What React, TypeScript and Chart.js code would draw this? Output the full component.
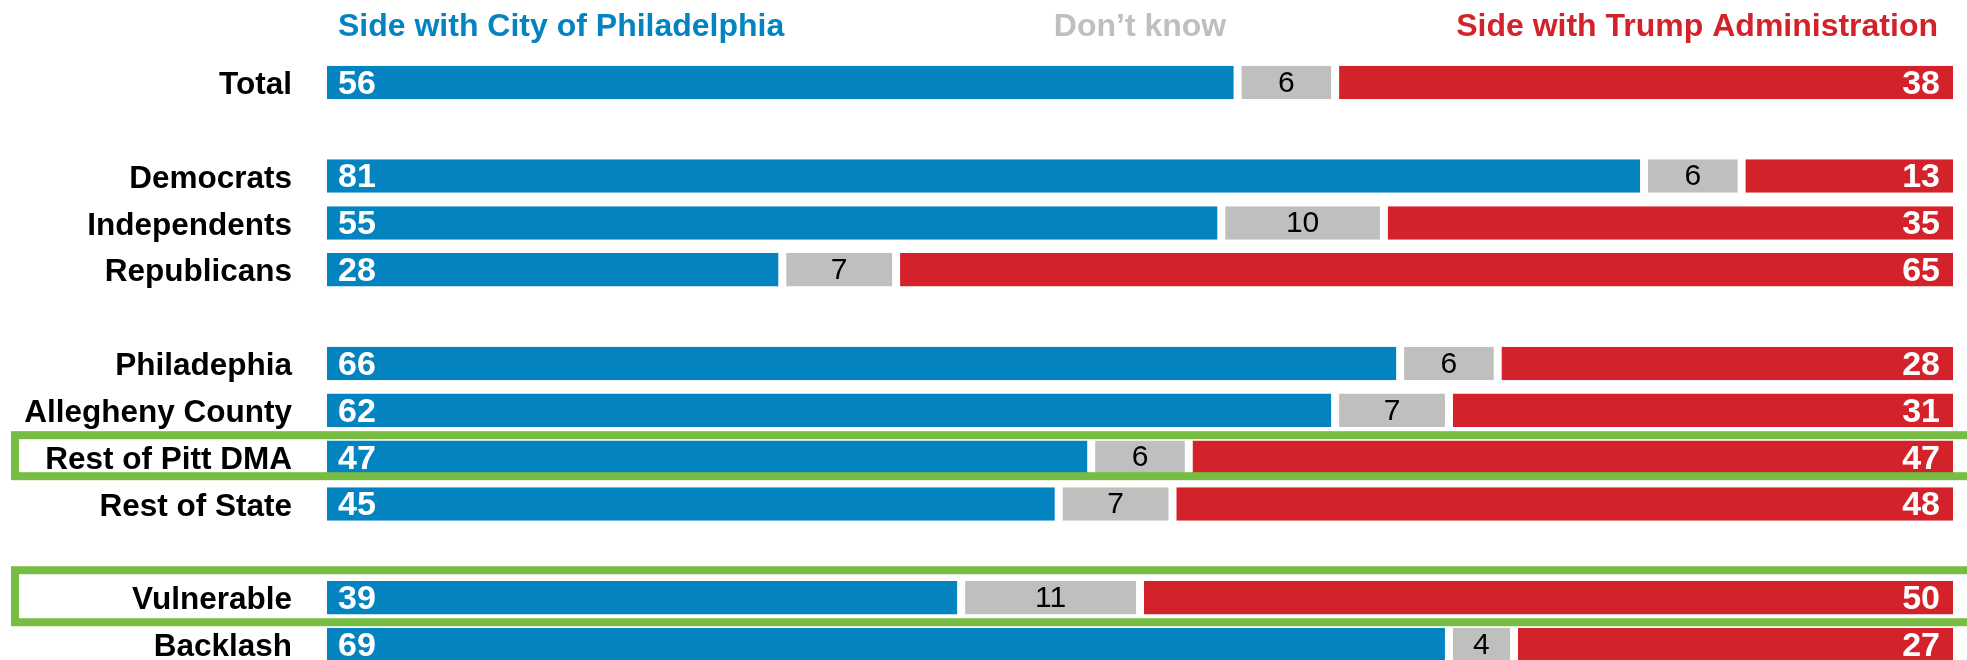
import React, { useEffect, useRef } from "react";
import { Chart, registerables } from "chart.js";

Chart.register(...registerables);

const categories = [
  "Total",
  "",
  "Democrats",
  "Independents",
  "Republicans",
  "",
  "Philadephia",
  "Allegheny County",
  "Rest of Pitt DMA",
  "Rest of State",
  "",
  "Vulnerable",
  "Backlash",
];

const cityValues = [56, null, 81, 55, 28, null, 66, 62, 47, 45, null, 39, 69];
const dontKnowValues = [6, null, 6, 10, 7, null, 6, 7, 6, 7, null, 11, 4];
const trumpValues = [38, null, 13, 35, 65, null, 28, 31, 47, 48, null, 50, 27];

const seriesLabels = ["Side with City of Philadelphia", "Don\u2019t know", "Side with Trump Administration"];
const highlightedRows = ["Rest of Pitt DMA", "Vulnerable"];
const highlightHalfHeights = [24.5, 30];

const BLUE = "#0384C1";
const GRAY = "#BFBFBD";
const RED = "#D32229";
const GREEN = "#77BC43";
const HEADER_GRAY = "#BFBFBF";
const FONT = '"Liberation Sans", Arial, Helvetica, sans-serif';

const headerPlugin = {
  id: "headers",
  afterDraw(chart: any) {
    const { ctx, chartArea } = chart;
    ctx.save();
    ctx.font = `bold 32px ${FONT}`;
    ctx.textBaseline = "alphabetic";
    const y = 36;
    ctx.fillStyle = BLUE;
    ctx.textAlign = "left";
    ctx.fillText(chart.data.datasets[0].label, chartArea.left + 11, y);
    ctx.fillStyle = HEADER_GRAY;
    ctx.textAlign = "center";
    ctx.fillText(chart.data.datasets[1].label, (chartArea.left + chartArea.right) / 2, y);
    ctx.fillStyle = RED;
    ctx.textAlign = "right";
    ctx.fillText(chart.data.datasets[2].label, chartArea.right - 15, y);
    ctx.restore();
  },
};

const valuePlugin = {
  id: "values",
  afterDatasetsDraw(chart: any) {
    const { ctx } = chart;
    ctx.save();
    ctx.textBaseline = "middle";
    chart.data.datasets.forEach((ds: any, di: number) => {
      const meta = chart.getDatasetMeta(di);
      meta.data.forEach((el: any, i: number) => {
        const v = ds.data[i];
        if (v === null || v === undefined) return;
        const left = Math.min(el.x, el.base);
        const right = Math.max(el.x, el.base);
        if (di === 0) {
          ctx.font = `bold 34px ${FONT}`;
          ctx.fillStyle = "#FFFFFF";
          ctx.textAlign = "left";
          ctx.fillText(String(v), left + 11, el.y + 2);
        } else if (di === 1) {
          ctx.font = `30px ${FONT}`;
          ctx.fillStyle = "#000000";
          ctx.textAlign = "center";
          ctx.fillText(String(v), (left + right) / 2, el.y + 1);
        } else {
          ctx.font = `bold 34px ${FONT}`;
          ctx.fillStyle = "#FFFFFF";
          ctx.textAlign = "right";
          ctx.fillText(String(v), right - 13, el.y + 2);
        }
      });
    });
    ctx.restore();
  },
};

const highlightPlugin = {
  id: "highlight",
  afterDatasetsDraw(chart: any) {
    const { ctx } = chart;
    const yScale = chart.scales.y;
    ctx.save();
    ctx.strokeStyle = GREEN;
    ctx.lineWidth = 8;
    highlightedRows.forEach((name, k) => {
      const idx = categories.indexOf(name);
      const cy = yScale.getPixelForValue(idx) - 1.5;
      const half = highlightHalfHeights[k];
      ctx.strokeRect(15, cy - half + 4, chart.width + 20, half * 2 - 8);
    });
    ctx.restore();
  },
};

export default function App() {
  const ref = useRef<HTMLCanvasElement | null>(null);

  useEffect(() => {
    document.body.style.margin = "0";
    const canvas = ref.current;
    if (!canvas) return;
    const common = {
      borderColor: "#FFFFFF",
      borderSkipped: false,
      categoryPercentage: 1,
      barPercentage: 0.715,
    };
    const chart = new Chart(canvas, {
      type: "bar",
      data: {
        labels: categories,
        datasets: [
          {
            ...common,
            label: seriesLabels[0],
            data: cityValues,
            backgroundColor: BLUE,
            borderWidth: { top: 0, bottom: 0, left: 0, right: 4 },
          },
          {
            ...common,
            label: seriesLabels[1],
            data: dontKnowValues,
            backgroundColor: GRAY,
            borderWidth: { top: 0, bottom: 0, left: 4, right: 4 },
          },
          {
            ...common,
            label: seriesLabels[2],
            data: trumpValues,
            backgroundColor: RED,
            borderWidth: { top: 0, bottom: 0, left: 4, right: 0 },
          },
        ] as any,
      },
      options: {
        indexAxis: "y",
        responsive: false,
        animation: false,
        layout: { padding: { top: 59, bottom: 0, left: 0, right: 14 } },
        plugins: {
          legend: { display: false },
          tooltip: { enabled: false },
          title: { display: false },
        },
        scales: {
          x: {
            stacked: true,
            min: 0,
            max: 100,
            display: false,
          },
          y: {
            stacked: true,
            border: { display: false },
            grid: { display: false, drawTicks: false },
            afterFit(scale: any) {
              scale.width = 327;
              scale.paddingTop = 0;
              scale.paddingBottom = 0;
            },
            ticks: {
              padding: 35,
              labelOffset: 3,
              color: "#000000",
              autoSkip: false,
              font: { family: FONT, size: 31.5, weight: "bold" },
            },
          },
        },
      } as any,
      plugins: [valuePlugin, highlightPlugin, headerPlugin],
    });
    return () => chart.destroy();
  }, []);

  return (
    <div style={{ position: "absolute", left: 0, top: 0, width: 1967, height: 668 }}>
      <canvas ref={ref} width={1967} height={668} style={{ display: "block" }} />
    </div>
  );
}
